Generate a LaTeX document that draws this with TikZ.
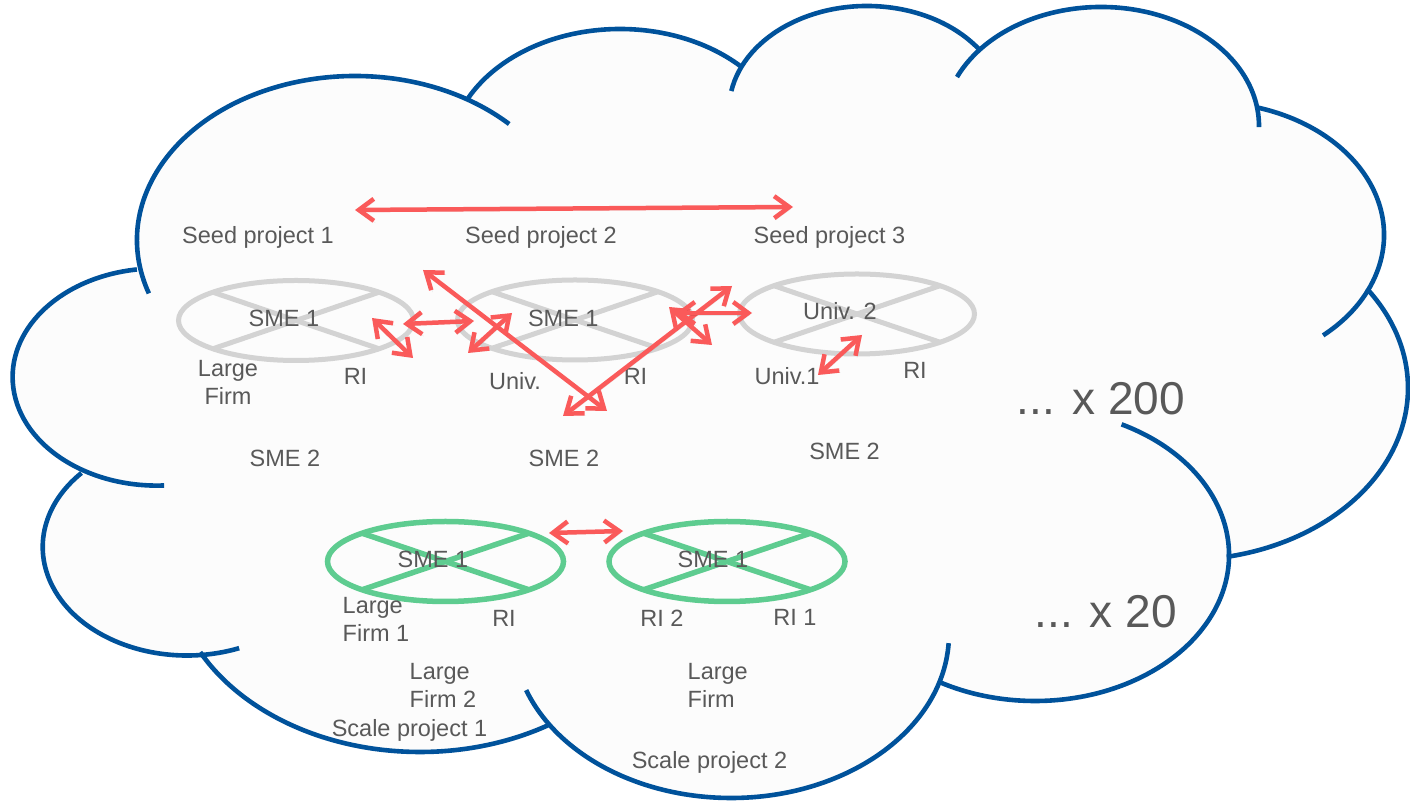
\documentclass[tikz,border=0pt]{standalone}
\usepackage{fontspec}
\setmainfont{Liberation Sans}
\usetikzlibrary{arrows.meta,calc}
\definecolor{cloudblue}{RGB}{0,82,155}
\definecolor{cloudfill}{RGB}{252,252,252}
\definecolor{txt}{RGB}{89,89,89}
\definecolor{ringgray}{RGB}{211,211,211}
\definecolor{ringgreen}{RGB}{94,204,144}
\definecolor{linkred}{RGB}{250,90,90}
\newcommand\lobe[6]{\draw[cloudline] (#1,#2) ++(#5:#3 and #4) arc[start angle=#5,end angle=#6,x radius=#3,y radius=#4];}
\newcommand\lobefill[4]{\fill[cloudfill] (#1,#2) ellipse [x radius=#3,y radius=#4];}
\newcommand\crossring[4]{%
  \draw[#2] (#1) ellipse [x radius=#3,y radius=#4];
  \draw[#2] ($(#1)+(45:#3 and #4)$) -- ($(#1)+(225:#3 and #4)$);
  \draw[#2] ($(#1)+(135:#3 and #4)$) -- ($(#1)+(315:#3 and #4)$);}
\begin{document}
\begin{tikzpicture}[x=1pt,y=1pt,
  cloudline/.style={draw=cloudblue,line width=4.6pt},
  lbl/.style={text=txt,font=\fontsize{23.5}{28}\selectfont,inner sep=0pt},
  big/.style={text=txt,font=\fontsize{46}{50}\selectfont,inner sep=0pt},
  grayring/.style={draw=ringgray,line width=5pt},
  greenring/.style={draw=ringgreen,line width=5.5pt},
  linkshadow/.style={preaction={draw=black,draw opacity=0.08,transform canvas={shift={(1.5pt,-2pt)}}}},
  link/.style={draw=linkred,line width=4.5pt,>={Straight Barb[length=15pt,width=22pt]},<->,linkshadow}]
\useasboundingbox (0,0) rectangle (1410,800);
\fill[white] (0,0) rectangle (1410,800);
% cloud fill
\lobefill{355}{560}{218}{164}
\lobefill{620}{643}{171}{128}
\lobefill{867}{690}{138}{104}
\lobefill{1101}{674}{158}{119}
\lobefill{1207}{565}{177}{133}
\lobefill{1184}{412}{224}{172}
\lobefill{1035}{245}{194}{146}
\lobefill{731}{166}{218}{164}
\lobefill{420}{234}{248}{186}
\lobefill{187}{253}{144.3}{108.5}
\lobefill{157}{423}{144.4}{108.6}
\fill[cloudfill] (355,560) -- (620,643) -- (867,690) -- (1101,674) -- (1207,565) -- (1184,412) -- (1035,245) -- (731,166) -- (420,234) -- (187,253) -- (157,423) -- cycle;
% cloud outline
\lobe{355}{560}{218}{164}{199}{45}
\lobe{620}{643}{171}{128}{153}{45}
\lobe{867}{690}{138}{104}{169.5}{35.6}
\lobe{1101}{674}{158}{119}{155.7}{-0.5}
\lobe{1207}{565}{177}{133}{73.6}{-49}
\lobe{1184}{412}{224}{172}{35.3}{-79}
\lobe{1035}{245}{194}{146}{63.5}{-120}
\lobe{731}{166}{218}{164}{-3.2}{-160}
\lobe{420}{234}{248}{186}{-58.7}{-152.4}
\lobe{187}{253}{144.3}{108.5}{-68.8}{-223}
\lobe{157}{423}{144.4}{108.6}{-87.2}{-262}
% seed project rings
\coordinate (e1) at (296,479.5);
\coordinate (e2) at (575,480);
\coordinate (e3) at (857,486);
\crossring{e1}{grayring}{117.5}{40}
\crossring{e2}{grayring}{117.5}{40}
\crossring{e3}{grayring}{117.5}{40}
% scale project rings
\coordinate (g1) at (445.5,238.5);
\coordinate (g2) at (727,238.5);
\crossring{g1}{greenring}{118}{40}
\crossring{g2}{greenring}{118}{40}
% labels
\node[lbl,anchor=base] (sp1) at (258,556.5) {Seed project 1};
\node[lbl,anchor=base] (sp2) at (541,556.5) {Seed project 2};
\node[lbl,anchor=base] (sp3) at (829.5,556.5) {Seed project 3};
\node[lbl,anchor=base] (s1a) at (284,473.3) {SME 1};
\node[lbl,anchor=base] (s1b) at (563.3,473.3) {SME 1};
\node[lbl,anchor=base] (u2) at (840,480) {Univ. 2};
\node[lbl,anchor=north,align=center] (lfa) at (228,440) {Large\\Firm};
\node[lbl,anchor=base] (ria) at (355.5,415) {RI};
\node[lbl,anchor=base] (un) at (515,410) {Univ.};
\node[lbl,anchor=base] (rib) at (635.5,415) {RI};
\node[lbl,anchor=base] (u1) at (787,415) {Univ.1};
\node[lbl,anchor=base] (ric) at (915,421.7) {RI};
\node[lbl,anchor=base] (s2a) at (285,333.3) {SME 2};
\node[lbl,anchor=base] (s2b) at (564,333.3) {SME 2};
\node[lbl,anchor=base] (s2c) at (844.5,340) {SME 2};
\node[big,anchor=base east] (x200) at (1185,385) {... x 200};
\node[big,anchor=base east] (x20) at (1177,172) {... x 20};
\node[lbl,anchor=base] (s1g) at (433,232) {SME 1};
\node[lbl,anchor=base] (s1h) at (713,232) {SME 1};
\node[lbl,anchor=north west,align=left] (lf1) at (342.5,203.3) {Large\\Firm 1};
\node[lbl,anchor=base] (rig) at (504,173.3) {RI};
\node[lbl,anchor=base] (ri2) at (662,173.3) {RI 2};
\node[lbl,anchor=base] (ri1) at (795,174) {RI 1};
\node[lbl,anchor=north west,align=left] (lf2) at (409.5,136.7) {Large\\Firm 2};
\node[lbl,anchor=north west,align=left] (lfg) at (687.5,136.7) {Large\\Firm};
\node[lbl,anchor=base] (sc1) at (409.5,63.2) {Scale project 1};
\node[lbl,anchor=base] (sc2) at (709.5,31.5) {Scale project 2};
% link end points
\coordinate (t1) at (355,590);   \coordinate (t2) at (793,593);
\coordinate (a1) at (423,530);   \coordinate (a2) at (607,389);
\coordinate (b1) at (563,384);   \coordinate (b2) at (732,514);
\coordinate (c1) at (403,476);   \coordinate (c2) at (474,479);
\coordinate (d1) at (372,482);   \coordinate (d2) at (413,442);
\coordinate (f1) at (468,447);   \coordinate (f2) at (512,487);
\coordinate (h1) at (669,493);   \coordinate (h2) at (712,455);
\coordinate (k1) at (676,487);   \coordinate (k2) at (752,487);
\coordinate (m1) at (818,425);   \coordinate (m2) at (862,465);
\coordinate (n1) at (549,267);   \coordinate (n2) at (623,269);
% links
\draw[link] (t1) -- (t2);
\draw[link] (a1) -- (a2);
\draw[link] (b1) -- (b2);
\draw[link] (c1) -- (c2);
\draw[link] (d1) -- (d2);
\draw[link] (f1) -- (f2);
\draw[link] (h1) -- (h2);
\draw[link] (k1) -- (k2);
\draw[link] (m1) -- (m2);
\draw[link] (n1) -- (n2);
\end{tikzpicture}
\end{document}
